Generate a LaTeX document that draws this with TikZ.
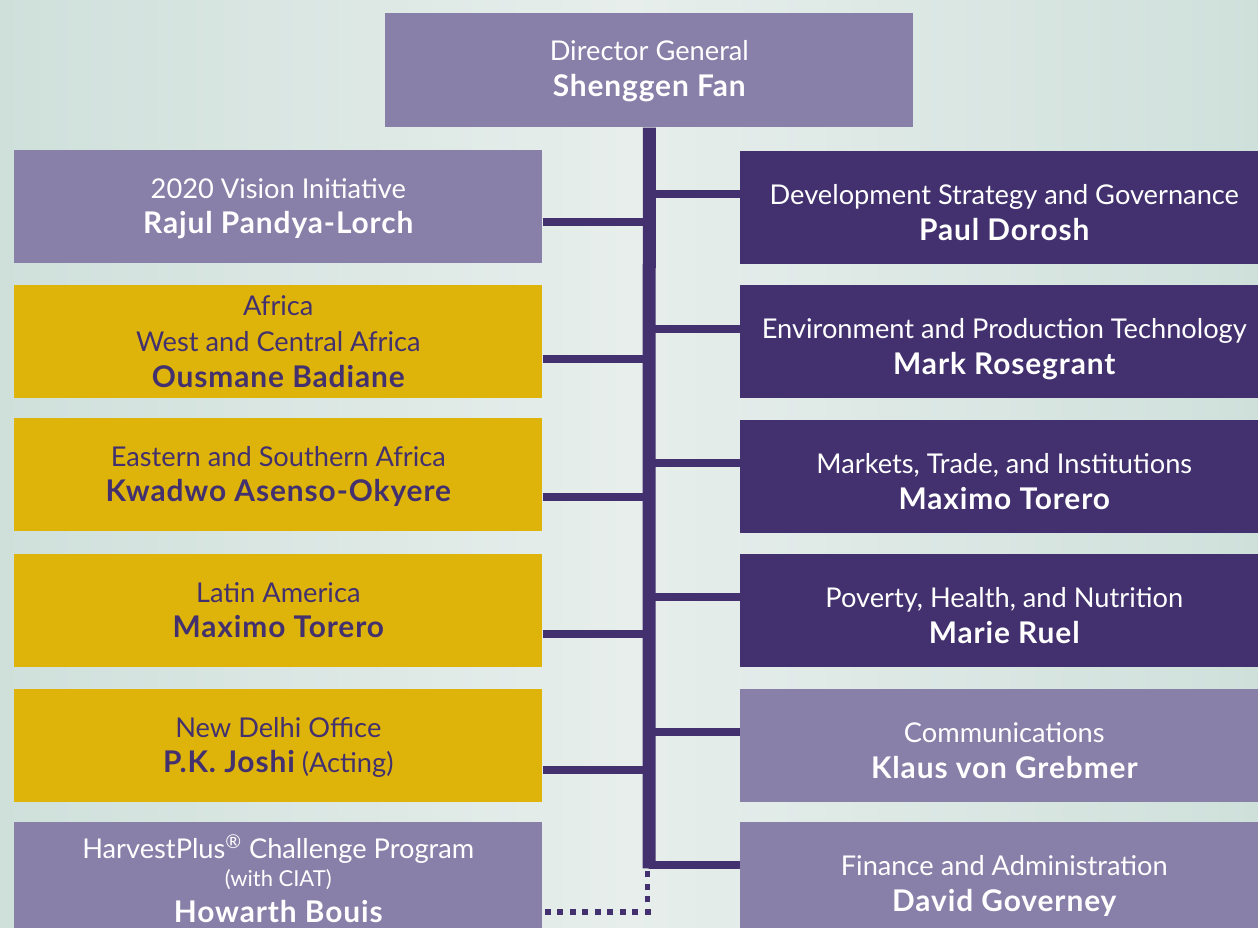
\documentclass[tikz,border=0pt]{standalone}
\usepackage{fontspec}
\setmainfont{Lato}
\usetikzlibrary{positioning, calc}
\definecolor{orgpurple}{RGB}{66,49,110}
\definecolor{orglilac}{RGB}{136,128,168}
\definecolor{orggold}{RGB}{223,180,10}
\definecolor{bgedge}{RGB}{207,224,219}
\definecolor{bgmid}{RGB}{231,238,236}
\newcommand{\headname}[1]{{\fontsize{17}{20.4}\selectfont\bfseries\addfontfeatures{LetterSpace=3}#1}}

\begin{document}
\begin{tikzpicture}[
  x=0.02cm, y=-0.02cm,
  unitbox/.style={anchor=north west, inner sep=0pt,
                  minimum width=10.56cm, minimum height=2.26cm,
                  align=center, font=\fontsize{15.5}{20.4}\selectfont},
  lbox/.style={unitbox, fill=orglilac, text=white},
  dbox/.style={unitbox, fill=orgpurple, text=white},
  gbox/.style={unitbox, fill=orggold, text=orgpurple},
  lefttext/.style={text height=30.8pt, text depth=0pt},
  righttext/.style={text height=37.5pt, text depth=0pt},
  trunk/.style={draw=orgpurple, line width=7.4pt},
  branch/.style={draw=orgpurple, line width=4pt},
  dots/.style={draw=orgpurple, line width=3.4pt, dash pattern=on 3.4pt off 3.75pt},
]

%% Background
\shade[left color=bgedge, right color=bgedge, middle color=bgmid]
  (0,0) rectangle (1258,928);
\useasboundingbox (0,0) rectangle (1258,928);

%% Top: Director General
\node[lbox, minimum height=2.28cm, lefttext, text height=29.5pt] (dg) at (385,13) {Director General\\\headname{Shenggen Fan}};

%% Left column
\node[lbox, lefttext] (vision)    at (14,150) {2020 Vision Initiative\\\headname{Rajul Pandya-Lorch}};
\node[gbox] (africa)              at (14,285) {Africa\\West and Central Africa\\\headname{Ousmane Badiane}};
\node[gbox, lefttext] (eastsouth) at (14,418) {Eastern and Southern Africa\\\headname{Kwadwo Asenso-Okyere}};
\node[gbox, lefttext] (latam)     at (14,554) {Latin America\\\headname{Maximo Torero}};
\node[gbox, lefttext] (delhi)     at (14,689) {New Delhi Office\\\headname{P.K. Joshi} (Acting)};
\node[lbox] (harvest)             at (14,822) {HarvestPlus\textsuperscript{\textregistered} Challenge Program\\[-4pt]
  {\fontsize{12.5}{14}\selectfont (with CIAT)}\\[-0.2pt]\headname{Howarth Bouis}};

%% Right column
\node[dbox, righttext] (dsgd)    at (740,151) {Development Strategy and Governance\\\headname{Paul Dorosh}};
\node[dbox, righttext] (eptd)    at (740,285) {Environment and Production Technology\\\headname{Mark Rosegrant}};
\node[dbox, righttext] (mtid)    at (740,420) {Markets, Trade, and Institutions\\\headname{Maximo Torero}};
\node[dbox, righttext] (phnd)    at (740,554) {Poverty, Health, and Nutrition\\\headname{Marie Ruel}};
\node[lbox, righttext] (comm)    at (740,689) {Communications\\\headname{Klaus von Grebmer}};
\node[lbox, righttext] (finance) at (740,822) {Finance and Administration\\\headname{David Governey}};

%% Spine
\coordinate (bend) at (649,868.5);
\draw[trunk] (dg.south) -- (bend);

%% Branches left
\draw[branch] (vision.east    |- 0,222) -- (dg.south |- 0,222);
\draw[branch] (africa.east    |- 0,359) -- (dg.south |- 0,359);
\draw[branch] (eastsouth.east |- 0,497) -- (dg.south |- 0,497);
\draw[branch] (latam.east     |- 0,634) -- (dg.south |- 0,634);
\draw[branch] (delhi.east     |- 0,770) -- (dg.south |- 0,770);

%% Branches right
\draw[branch] (dg.south |- 0,194) -- (dsgd.west    |- 0,194);
\draw[branch] (dg.south |- 0,329) -- (eptd.west    |- 0,329);
\draw[branch] (dg.south |- 0,463) -- (mtid.west    |- 0,463);
\draw[branch] (dg.south |- 0,597) -- (phnd.west    |- 0,597);
\draw[branch] (dg.south |- 0,732) -- (comm.west    |- 0,732);
\draw[branch] (dg.south |- 0,865) -- (finance.west |- 0,865);

%% Dotted link to HarvestPlus
\draw[dots] (651,912) -- (harvest.east |- 0,912);
\draw[dots] (647.5,915) -- (647.5,871);

\end{tikzpicture}
\end{document}
